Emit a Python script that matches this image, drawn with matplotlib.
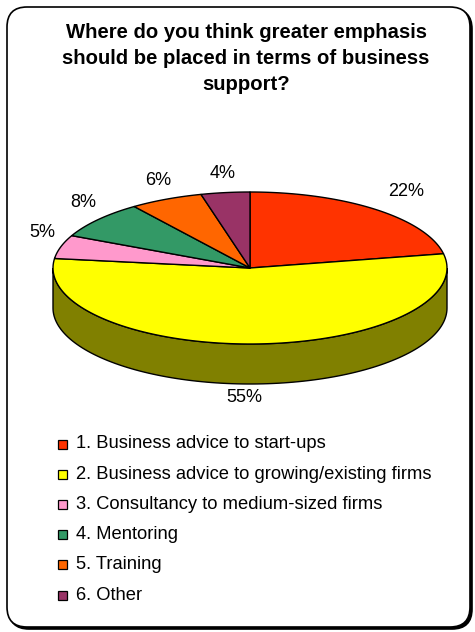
import numpy as np
import matplotlib.pyplot as plt
from matplotlib.patches import Polygon, Rectangle, FancyBboxPatch
from matplotlib.colors import to_rgb

plt.rcParams['font.family'] = ['Liberation Sans', 'DejaVu Sans']

# survey answers (share of respondents, %)
categories = [
    '1. Business advice to start-ups',
    '2. Business advice to growing/existing firms',
    '3. Consultancy to medium-sized firms',
    '4. Mentoring',
    '5. Training',
    '6. Other',
]
shares = [22, 55, 5, 8, 6, 4]
colors = ['#FF3300', '#FFFF00', '#FF99CC', '#339966', '#FF6600', '#993366']
title_lines = ['Where do you think greater emphasis',
               'should be placed in terms of business',
               'support?']

W, H = 475, 632
fig = plt.figure(figsize=(W / 100, H / 100), dpi=100)
ax = fig.add_axes([0, 0, 1, 1])
ax.set_xlim(0, W)
ax.set_ylim(H, 0)
ax.axis('off')

# frame with a thin drop shadow
ax.add_patch(FancyBboxPatch((9, 9), 463, 620, boxstyle='round,pad=0,rounding_size=20',
                            fc='black', ec='black', lw=1.2, zorder=0))
ax.add_patch(FancyBboxPatch((7, 7), 463, 620, boxstyle='round,pad=0,rounding_size=20',
                            fc='white', ec='black', lw=1.2, zorder=1))

for i, line in enumerate(title_lines):
    ax.text(246, 33 + 26 * i, line, ha='center', va='center',
            fontsize=14.6, fontweight='bold', zorder=5)

# 3D pie: ellipse for the top face, wall drawn below it
cx, cy, rx, ry, depth = 250, 268, 197, 76, 40


def pt(t, dy=0.0):
    r = np.radians(t)
    return cx + rx * np.cos(r), cy - ry * np.sin(r) + dy


vals = np.array(shares, dtype=float)
cum = np.concatenate([[0], np.cumsum(vals)]) / vals.sum()
starts = 90 - 360 * cum[:-1]
ends = 90 - 360 * cum[1:]

# side walls (only the front half, angles between -180 and 0)
for t0, t1, c in zip(starts, ends, colors):
    a, b = max(t1, -180), min(t0, 0)
    if a >= b:
        continue
    ts = np.linspace(b, a, 120)
    top = [pt(t) for t in ts]
    bot = [pt(t, depth) for t in ts[::-1]]
    side = tuple(v * 0.5 for v in to_rgb(c))
    ax.add_patch(Polygon(top + bot, closed=True, fc=side, ec='black', lw=1.0, zorder=2))

# top faces
for t0, t1, c in zip(starts, ends, colors):
    ts = np.linspace(t0, t1, 120)
    verts = [(cx, cy)] + [pt(t) for t in ts]
    ax.add_patch(Polygon(verts, closed=True, fc=c, ec='black', lw=1.0,
                         joinstyle='round', zorder=3))

# percentage labels
for t0, t1, v in zip(starts, ends, shares):
    tm = np.radians((t0 + t1) / 2)
    x = cx + 1.1 * rx * np.cos(tm)
    if np.sin(tm) >= 0:
        y = cy - 1.1 * ry * np.sin(tm) - 12
    else:
        x -= 12
        y = cy - 1.1 * ry * np.sin(tm) + depth + 6
    ha = 'left' if np.cos(tm) > 0.3 else 'center'
    ax.text(x, y, f'{v}%', ha=ha, va='center', fontsize=13, zorder=5)

# legend
for i, (lab, c) in enumerate(zip(categories, colors)):
    y = 444 + 30.2 * i
    ax.add_patch(Rectangle((58, y - 4.5), 9, 9, fc=c, ec='black', lw=0.9, zorder=4))
    ax.text(76, y, lab, ha='left', va='center', fontsize=13.2, zorder=5)

fig.savefig('out.png', dpi=100)
